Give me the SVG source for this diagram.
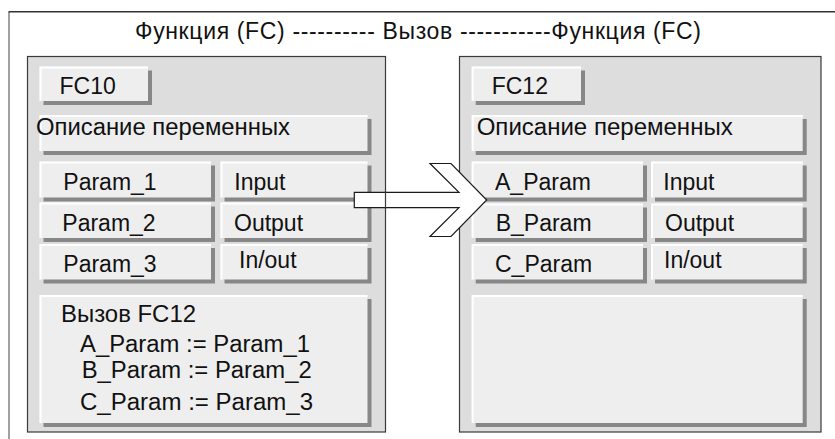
<svg xmlns="http://www.w3.org/2000/svg" width="835" height="439" viewBox="0 0 835 439">
<style>
text{font-family:"Liberation Sans",Arial,sans-serif;font-size:23px;fill:#111}
.panel{fill:#dddddd;stroke:#3a3a3a;stroke-width:1.2}
.sh{fill:#878787}
.btn{fill:#eeeeee}
.hl{fill:none;stroke:#ffffff;stroke-width:2}
.arrow{fill:#ffffff;stroke:#1a1a1a;stroke-width:1.2;stroke-linejoin:miter}
</style>
<rect x="0" y="0" width="835" height="439" fill="#ffffff"/>
<g id="frame">
<line x1="9" y1="12" x2="9" y2="439" stroke="#8a8a8a" stroke-width="1.6"/>
<line x1="8.5" y1="11.8" x2="835" y2="11.8" stroke="#333333" stroke-width="1.6"/>
<text id="title" x="135" y="38.5" textLength="566" lengthAdjust="spacing">Функция  (FC) ---------- Вызов -----------Функция (FC)</text>
</g>

<g id="panel-fc10">
<rect class="panel" x="27.5" y="56.5" width="358" height="375.5"/>
<g id="fc10"><rect class="sh" x="43.5" y="70.5" width="108.5" height="34.5"/><rect class="btn" x="39.5" y="66.5" width="108.5" height="34.5"/><path class="hl" d="M40.5,101V67.5H148"/><text x="59.5" y="93.5">FC10</text></g>
<g id="decl-left"><rect class="sh" x="43.5" y="119" width="328" height="36"/><rect class="btn" x="39.5" y="115" width="328" height="36"/><path class="hl" d="M40.5,151V116H367.5"/><text x="36" y="135" textLength="254" lengthAdjust="spacingAndGlyphs">Описание переменных</text></g>
<g id="param1"><rect class="sh" x="43.5" y="165.5" width="171.5" height="36"/><rect class="btn" x="39.5" y="161.5" width="171.5" height="36"/><path class="hl" d="M40.5,197.5V162.5H211"/><text x="63.3" y="190">Param_1</text></g>
<g id="input-left"><rect class="sh" x="224.5" y="165.5" width="147" height="36"/><rect class="btn" x="220.5" y="161.5" width="147" height="36"/><path class="hl" d="M221.5,197.5V162.5H367.5"/><text x="234.3" y="190">Input</text></g>
<g id="param2"><rect class="sh" x="43.5" y="206.5" width="171.5" height="35.5"/><rect class="btn" x="39.5" y="202.5" width="171.5" height="35.5"/><path class="hl" d="M40.5,238V203.5H211"/><text x="62.3" y="231">Param_2</text></g>
<g id="output-left"><rect class="sh" x="224.5" y="206.5" width="147" height="35.5"/><rect class="btn" x="220.5" y="202.5" width="147" height="35.5"/><path class="hl" d="M221.5,238V203.5H367.5"/><text x="234" y="231">Output</text></g>
<g id="param3"><rect class="sh" x="43.5" y="248" width="171.5" height="35.5"/><rect class="btn" x="39.5" y="244" width="171.5" height="35.5"/><path class="hl" d="M40.5,279.5V245H211"/><text x="63.3" y="271.7">Param_3</text></g>
<g id="inout-left"><rect class="sh" x="224.5" y="248" width="147" height="35.5"/><rect class="btn" x="220.5" y="244" width="147" height="35.5"/><path class="hl" d="M221.5,279.5V245H367.5"/><text x="239" y="268.3">In/out</text></g>
<g id="call"><rect class="sh" x="43.5" y="299" width="328" height="128"/><rect class="btn" x="39.5" y="295" width="328" height="128"/><path class="hl" d="M40.5,423V296H367.5"/>
<text x="61" y="321.7" textLength="135" lengthAdjust="spacingAndGlyphs">Вызов FC12</text>
<text x="80" y="351.7" textLength="230" lengthAdjust="spacingAndGlyphs">A_Param := Param_1</text>
<text x="81.7" y="378.3" textLength="230" lengthAdjust="spacingAndGlyphs">B_Param := Param_2</text>
<text x="80" y="410" textLength="233" lengthAdjust="spacingAndGlyphs">C_Param := Param_3</text></g>
</g>

<g id="panel-fc12">
<rect class="panel" x="459.5" y="56.5" width="361.5" height="375.5"/>
<g id="fc12"><rect class="sh" x="475.7" y="70.5" width="109.3" height="34.5"/><rect class="btn" x="471.7" y="66.5" width="109.3" height="34.5"/><path class="hl" d="M472.7,101V67.5H581"/><text x="491.7" y="93.5">FC12</text></g>
<g id="decl-right"><rect class="sh" x="475.7" y="119" width="331" height="36"/><rect class="btn" x="471.7" y="115" width="331" height="36"/><path class="hl" d="M472.7,151V116H802.7"/><text x="476.7" y="135" textLength="256" lengthAdjust="spacingAndGlyphs">Описание переменных</text></g>
<g id="aparam"><rect class="sh" x="475.7" y="165.5" width="171.3" height="36"/><rect class="btn" x="471.7" y="161.5" width="171.3" height="36"/><path class="hl" d="M472.7,197.5V162.5H643"/><text x="495" y="190">A_Param</text></g>
<g id="input-right"><rect class="sh" x="655" y="165.5" width="151.7" height="36"/><rect class="btn" x="651" y="161.5" width="151.7" height="36"/><path class="hl" d="M652,197.5V162.5H802.7"/><text x="663.3" y="190">Input</text></g>
<g id="bparam"><rect class="sh" x="475.7" y="207.5" width="171.3" height="34.5"/><rect class="btn" x="471.7" y="203.5" width="171.3" height="34.5"/><path class="hl" d="M472.7,238V204.5H643"/><text x="495.7" y="231">B_Param</text></g>
<g id="output-right"><rect class="sh" x="655" y="207.5" width="151.7" height="34.5"/><rect class="btn" x="651" y="203.5" width="151.7" height="34.5"/><path class="hl" d="M652,238V204.5H802.7"/><text x="665" y="231">Output</text></g>
<g id="cparam"><rect class="sh" x="475.7" y="248" width="171.3" height="35.5"/><rect class="btn" x="471.7" y="244" width="171.3" height="35.5"/><path class="hl" d="M472.7,279.5V245H643"/><text x="495" y="271.7">C_Param</text></g>
<g id="inout-right"><rect class="sh" x="655" y="248" width="151.7" height="35.5"/><rect class="btn" x="651" y="244" width="151.7" height="35.5"/><path class="hl" d="M652,279.5V245H802.7"/><text x="664" y="268.3">In/out</text></g>
<g id="body-right"><rect class="sh" x="475.7" y="299" width="331" height="128"/><rect class="btn" x="471.7" y="295" width="331" height="128"/><path class="hl" d="M472.7,423V296H802.7"/></g>
</g>

<g id="connectors">
<polygon class="arrow" points="354.3,192.3 459,192.3 430,163.5 451,163.5 486.7,200 451,236.5 430,236.5 459,207.7 354.3,207.7"/>
<line x1="385.5" y1="191" x2="385.5" y2="209" stroke="#3a3a3a" stroke-width="1.2"/>
</g>
</svg>
